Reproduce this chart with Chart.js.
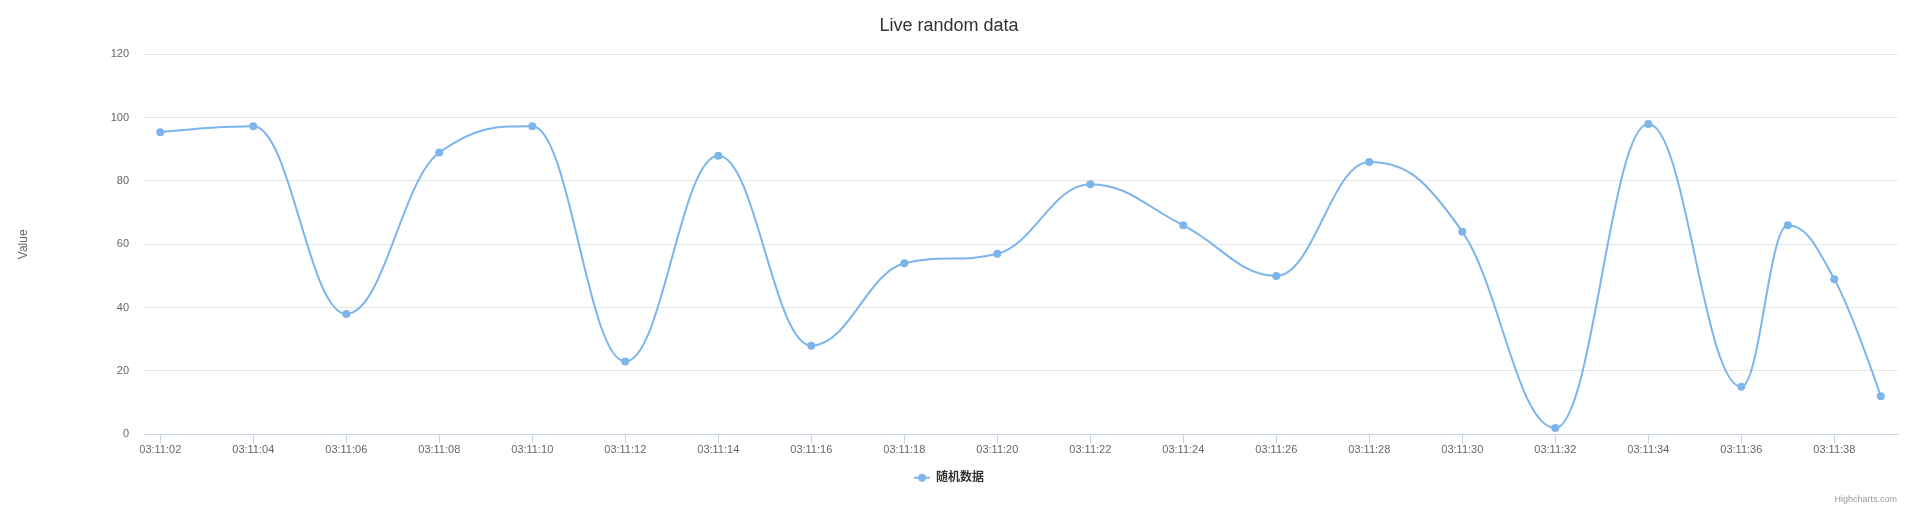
<!DOCTYPE html>
<html>
<head>
<meta charset="utf-8">
<script src="https://cdn.jsdelivr.net/npm/chart.js@4/dist/chart.umd.min.js"></script>
<style>
  html, body { margin: 0; padding: 0; background: #ffffff; }
  #wrap { width: 1906px; height: 510px; }
</style>
</head>
<body>
<div id="wrap"><canvas id="c" width="1906" height="510"></canvas></div>
<script>
// ---- data ----
const times = ['03:11:02','03:11:04','03:11:06','03:11:08','03:11:10','03:11:12','03:11:14',
  '03:11:16','03:11:18','03:11:20','03:11:22','03:11:24','03:11:26','03:11:28','03:11:30',
  '03:11:32','03:11:34','03:11:36','03:11:37','03:11:38','03:11:39'];
const values = [95.4, 97.3, 38, 89, 97.3, 23, 88, 28, 54, 57, 79, 66, 50, 86, 64, 2, 98, 15, 66, 49, 12];
const xTickLabels = ['03:11:02','03:11:04','03:11:06','03:11:08','03:11:10','03:11:12','03:11:14',
  '03:11:16','03:11:18','03:11:20','03:11:22','03:11:24','03:11:26','03:11:28','03:11:30',
  '03:11:32','03:11:34','03:11:36','03:11:38'];
const yTicks = [0, 20, 40, 60, 80, 100, 120];
const seriesName = '随机数据';
const chartTitle = 'Live random data';
const yTitle = 'Value';
const creditText = 'Highcharts.com';

// ---- helpers ----
const toSec = s => { const p = s.split(':').map(Number); return p[0]*3600 + p[1]*60 + p[2]; };
const pad2 = n => String(n).padStart(2, '0');
const fmt = v => { const s = Math.round(v); return pad2(Math.floor(s/3600)) + ':' + pad2(Math.floor(s%3600/60)) + ':' + pad2(s%60); };

const points = times.map((t, i) => ({ x: toSec(t), y: values[i] }));
const xTickVals = xTickLabels.map(toSec);
const xMin = toSec(times[0]) - 0.35;
const xMax = toSec(times[times.length - 1]) + 0.37;

const FONT = "'Liberation Sans', Arial, sans-serif";

// legend symbol: line with circle
const sym = document.createElement('canvas');
sym.width = 16; sym.height = 10;
(function () {
  const g = sym.getContext('2d');
  g.strokeStyle = '#7cb5ec'; g.lineWidth = 2;
  g.beginPath(); g.moveTo(0, 5); g.lineTo(16, 5); g.stroke();
  g.fillStyle = '#7cb5ec';
  g.beginPath(); g.arc(8, 5, 4, 0, Math.PI * 2); g.fill();
})();

// Highcharts-style spline control points (smoothing 1.5, no false extremes)
const hcSpline = {
  id: 'hcSpline',
  beforeDatasetsDraw(chart) {
    chart.data.datasets.forEach((ds, di) => {
      const meta = chart.getDatasetMeta(di);
      const pts = meta.data, line = meta.dataset;
      if (!line || !pts.length) return;
      const sm = 1.5, den = sm + 1;
      for (let i = 0; i < pts.length; i++) {
        const p = pts[i], prev = pts[i - 1], next = pts[i + 1];
        p.cp1x = p.x; p.cp1y = p.y; p.cp2x = p.x; p.cp2y = p.y;
        if (!prev || !next) continue;
        let lx = (sm * p.x + prev.x) / den, ly = (sm * p.y + prev.y) / den;
        let rx = (sm * p.x + next.x) / den, ry = (sm * p.y + next.y) / den;
        if (rx !== lx) {
          const c = (ry - ly) * (rx - p.x) / (rx - lx) + p.y - ry;
          ly += c; ry += c;
        }
        if (ly > prev.y && ly > p.y) { ly = Math.max(prev.y, p.y); ry = 2 * p.y - ly; }
        else if (ly < prev.y && ly < p.y) { ly = Math.min(prev.y, p.y); ry = 2 * p.y - ly; }
        if (ry > next.y && ry > p.y) { ry = Math.max(next.y, p.y); ly = 2 * p.y - ry; }
        else if (ry < next.y && ry < p.y) { ry = Math.min(next.y, p.y); ly = 2 * p.y - ry; }
        p.cp1x = lx; p.cp1y = ly; p.cp2x = rx; p.cp2y = ry;
      }
      line._pointsUpdated = true;
      line._path = undefined;
    });
  }
};

const credits = {
  id: 'credits',
  afterDraw(chart) {
    const ctx = chart.ctx;
    ctx.save();
    ctx.font = '9px ' + FONT;
    ctx.fillStyle = '#999999';
    ctx.textAlign = 'right';
    ctx.textBaseline = 'middle';
    ctx.fillText(creditText, 1897, 500);
    ctx.restore();
  }
};

new Chart(document.getElementById('c'), {
  type: 'line',
  data: {
    datasets: [{
      label: seriesName,
      data: points,
      borderColor: '#7cb5ec',
      backgroundColor: '#7cb5ec',
      borderWidth: 2,
      pointRadius: 4,
      pointBorderWidth: 0,
      pointBackgroundColor: '#7cb5ec',
      pointHoverRadius: 4,
      tension: 0.4,
      fill: false
    }]
  },
  options: {
    responsive: false,
    animation: false,
    layout: { padding: { left: 0, right: 8, top: 0, bottom: 16.3 } },
    plugins: {
      title: {
        display: true,
        text: chartTitle,
        color: '#333333',
        font: { family: FONT, size: 18, weight: 'normal', lineHeight: 1.2 },
        padding: { top: 15.2, bottom: 17.5 }
      },
      legend: {
        display: true,
        position: 'bottom',
        labels: {
          usePointStyle: true,
          pointStyle: sym,
          pointStyleWidth: 16,
          padding: 7.4,
          color: '#333333',
          font: { family: "'Liberation Sans', 'Noto Sans CJK SC', sans-serif", size: 12, weight: 'bold' }
        }
      },
      tooltip: { enabled: false }
    },
    scales: {
      x: {
        type: 'linear',
        min: xMin,
        max: xMax,
        afterBuildTicks(scale) { scale.ticks = xTickVals.map(v => ({ value: v })); },
        afterFit(scale) { scale.height = 30; },
        grid: { display: true, drawOnChartArea: false, drawTicks: true, tickLength: 9, color: '#ccd6eb', lineWidth: 1 },
        border: { display: true, color: '#ccd6eb', width: 1 },
        ticks: {
          autoSkip: false,
          maxRotation: 0,
          padding: 0,
          color: '#666666',
          font: { family: FONT, size: 11 },
          callback: v => fmt(v)
        }
      },
      y: {
        min: 0,
        max: 120,
        afterBuildTicks(scale) { scale.ticks = yTicks.map(v => ({ value: v })); },
        afterFit(scale) { scale.width = 144; },
        grid: { color: '#e6e6e6', lineWidth: 1, drawTicks: false },
        border: { display: false },
        ticks: {
          padding: 15,
          color: '#666666',
          font: { family: FONT, size: 11 }
        },
        title: {
          display: true,
          text: yTitle,
          color: '#666666',
          font: { family: FONT, size: 12, weight: 'normal' },
          padding: { top: 16, bottom: 0 }
        }
      }
    }
  },
  plugins: [hcSpline, credits]
});
</script>
</body>
</html>
